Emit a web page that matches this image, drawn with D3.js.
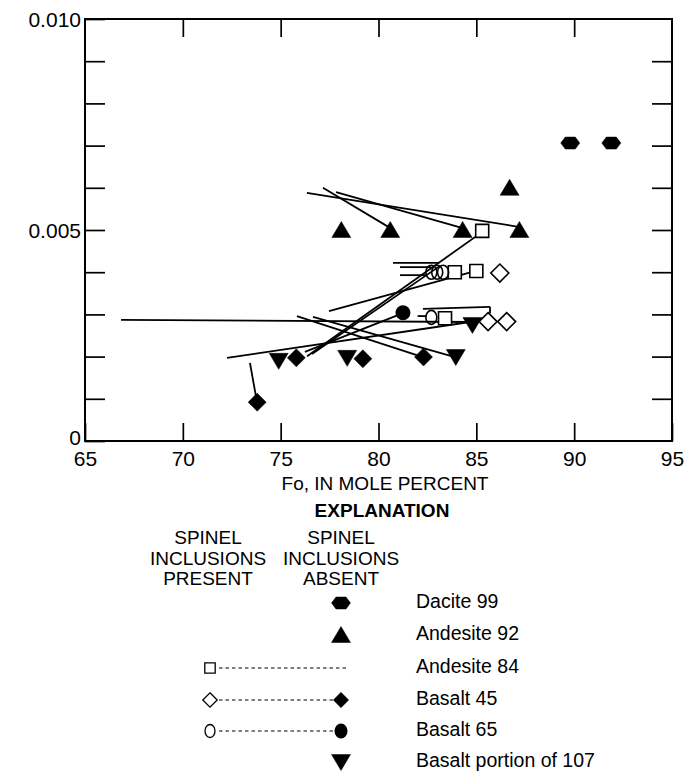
<!DOCTYPE html>
<html>
<head>
<meta charset="utf-8">
<script src="https://cdn.jsdelivr.net/npm/d3@7"></script>
<style>
	body { margin: 0; background: #fff; }
	text { font-family: "Liberation Sans", Arial, sans-serif; fill: #000; }
</style>
</head>
<body>
<svg id="main" width="685" height="772"></svg>
<script>

// ---- data (Fo in mole percent, Ni in formula units) ----
const foTicks = [65, 70, 75, 80, 85, 90, 95];
const niTicks = [0, 0.001, 0.002, 0.003, 0.004, 0.005, 0.006, 0.007, 0.008, 0.009, 0.010];
const niLabels = ['0', '', '', '', '', '0.005', '', '', '', '', '0.010'];

const dacite99 = [[89.8, 0.00706], [91.9, 0.00706]];
const andesite92 = [[78.1, 0.0050], [80.6, 0.0050], [84.3, 0.0050], [87.2, 0.0050], [86.7, 0.0060]];
const andesite84Present = [[85.3, 0.00498], [83.9, 0.00400], [85.0, 0.00403], [83.4, 0.00291]];
const basalt45Present = [[86.2, 0.00398], [85.6, 0.00283], [86.55, 0.00283]];
const basalt45Absent = [[75.8, 0.00197], [79.2, 0.00195], [82.3, 0.00199], [73.8, 0.00092]];
const basalt65Present = [[82.7, 0.00400], [83.0, 0.00400], [83.3, 0.00400], [82.7, 0.00293]];
const basalt65Absent = [[81.25, 0.00304]];
const basalt107 = [[74.9, 0.00190], [78.4, 0.00197], [83.95, 0.00199], [84.8, 0.00275]];

// tie lines: [fo1, ni1, fo2, ni2]
const tieLines = [
	[76.34, 0.00588, 87.23, 0.00507],
	[77.83, 0.00590, 84.26, 0.00505],
	[77.16, 0.00600, 80.59, 0.00505],
	[66.84, 0.00287, 84.68, 0.00282],
	[72.26, 0.00197, 84.68, 0.00282],
	[76.35, 0.00201, 85.29, 0.00495],
	[76.60, 0.00206, 83.14, 0.00415],
	[76.24, 0.00211, 81.25, 0.00303],
	[77.47, 0.00308, 84.98, 0.00403],
	[75.83, 0.00296, 82.27, 0.00199],
	[76.65, 0.00294, 83.91, 0.00199],
	[73.79, 0.00092, 73.43, 0.00185],
	[80.74, 0.00422, 83.10, 0.00422],
	[81.10, 0.00412, 82.70, 0.00412],
	[81.10, 0.00393, 82.50, 0.00393],
	[82.27, 0.00313, 85.70, 0.00318],
	[85.70, 0.00318, 85.70, 0.00303],
	[82.00, 0.00296, 82.45, 0.00296]
];

const legendRows = ['Dacite 99', 'Andesite 92', 'Andesite 84', 'Basalt 45', 'Basalt 65', 'Basalt portion of 107'];

main();

function main() {
	let svg = d3.select('#main');

	let x = d3.scaleLinear().domain([65, 95]).range([85, 672]);
	let y = d3.scaleLinear().domain([0, 0.010]).range([441, 19]);

	// symbol shapes
	const shapes = {
		hex: [[-9.5, 0], [-5, -6], [5, -6], [9.5, 0], [5, 6], [-5, 6]],
		triUp: [[0, -8.5], [9.5, 7.5], [-9.5, 7.5]],
		triDown: [[-9.5, -7.5], [9.5, -7.5], [0, 8.5]],
		diamond: [[0, -9], [9, 0], [0, 9], [-9, 0]],
		square: [[-6.5, -6.5], [6.5, -6.5], [6.5, 6.5], [-6.5, 6.5]]
	};
	const poly = (pts, s) => 'M' + pts.map(p => [p[0] * s, p[1] * s].join(',')).join('L') + 'Z';

	function drawPoly(g, data, shape, filled, s = 1) {
		g.selectAll(null)
			.data(data)
			.enter()
			.append('path')
			.attr('transform', d => `translate(${x(d[0])},${y(d[1])})`)
			.attr('d', poly(shapes[shape], s))
			.attr('fill', filled ? '#000' : '#fff')
			.attr('stroke', '#000')
			.attr('stroke-width', filled ? 0.5 : 1.6);
	}

	// axes (ticks pointing inward)
	let gx = svg.append('g')
		.attr('transform', 'translate(0,441)')
		.call(d3.axisBottom(x).tickValues(foTicks).tickSize(-18).tickPadding(10));
	let gxTop = svg.append('g')
		.attr('transform', 'translate(0,19)')
		.call(d3.axisTop(x).tickValues(foTicks.slice(1, -1)).tickSize(-18).tickFormat(''));
	let gy = svg.append('g')
		.attr('transform', 'translate(85,0)')
		.call(d3.axisLeft(y).tickValues(niTicks).tickSize(-20).tickPadding(4)
			.tickFormat((d, i) => niLabels[i]));
	let gyRight = svg.append('g')
		.attr('transform', 'translate(672,0)')
		.call(d3.axisRight(y).tickValues(niTicks.slice(1, -1)).tickSize(-20).tickFormat(''));

	[gx, gxTop, gy, gyRight].forEach(g => {
		g.select('.domain').remove();
		g.selectAll('line').attr('stroke', '#000').attr('stroke-width', 1.7);
		g.selectAll('text').style('font-size', '21px').attr('fill', '#000');
	});
	gy.selectAll('text').attr('dy', '0.35em');
	gy.selectAll('.tick').filter(d => d === 0).select('text').attr('y', -4);

	svg.append('rect')
		.attr('x', x(65)).attr('y', y(0.010))
		.attr('width', x(95) - x(65)).attr('height', y(0) - y(0.010))
		.attr('fill', 'none').attr('stroke', '#000').attr('stroke-width', 2);

	// tie lines
	svg.append('g')
		.selectAll('line')
		.data(tieLines)
		.enter()
		.append('line')
		.attr('x1', d => x(d[0])).attr('y1', d => y(d[1]))
		.attr('x2', d => x(d[2])).attr('y2', d => y(d[3]))
		.attr('stroke', '#000')
		.attr('stroke-width', 1.8);

	let marks = svg.append('g');
	drawPoly(marks, dacite99, 'hex', true);
	drawPoly(marks, andesite92, 'triUp', true);
	drawPoly(marks, andesite84Present, 'square', false);
	drawPoly(marks, basalt45Present, 'diamond', false);
	drawPoly(marks, basalt45Absent, 'diamond', true);
	drawPoly(marks, basalt107, 'triDown', true);
	marks.selectAll(null)
		.data(basalt65Present)
		.enter()
		.append('ellipse')
		.attr('cx', d => x(d[0])).attr('cy', d => y(d[1]))
		.attr('rx', 5.5).attr('ry', 7)
		.attr('fill', 'none').attr('stroke', '#000').attr('stroke-width', 1.6);
	marks.selectAll(null)
		.data(basalt65Absent)
		.enter()
		.append('circle')
		.attr('cx', d => x(d[0])).attr('cy', d => y(d[1]))
		.attr('r', 7.5)
		.attr('fill', '#000');

	// axis title
	svg.append('text')
		.attr('x', 385).attr('y', 485)
		.attr('text-anchor', 'middle').attr('dominant-baseline', 'middle')
		.style('font-size', '19px')
		.text('Fo, IN MOLE PERCENT');

	// explanation
	let leg = svg.append('g');
	leg.append('text')
		.attr('x', 382).attr('y', 512)
		.attr('text-anchor', 'middle').attr('dominant-baseline', 'middle')
		.style('font-size', '19px').style('font-weight', 'bold')
		.text('EXPLANATION');

	const colLeft = 208, colRight = 341;
	[['SPINEL', 'INCLUSIONS', 'PRESENT'], ['SPINEL', 'INCLUSIONS', 'ABSENT']].forEach((lines, c) => {
		lines.forEach((t, i) => {
			leg.append('text')
				.attr('x', c ? colRight : colLeft).attr('y', 539 + i * 20.5)
				.attr('text-anchor', 'middle').attr('dominant-baseline', 'middle')
				.style('font-size', '19px')
				.text(t);
		});
	});

	const rowY = [603, 635, 668, 700, 731, 762];
	legendRows.forEach((t, i) => {
		leg.append('text')
			.attr('x', 416).attr('y', rowY[i])
			.attr('dominant-baseline', 'middle')
			.style('font-size', '19.5px')
			.text(t);
	});

	const legPath = (shape, cx, cy, filled, s = 1) => leg.append('path')
		.attr('transform', `translate(${cx},${cy})`)
		.attr('d', poly(shapes[shape], s))
		.attr('fill', filled ? '#000' : '#fff')
		.attr('stroke', '#000')
		.attr('stroke-width', filled ? 0.5 : 1.3);
	const dash = (x1, x2, cy) => leg.append('line')
		.attr('x1', x1).attr('x2', x2).attr('y1', cy).attr('y2', cy)
		.attr('stroke', '#000').attr('stroke-width', 1.1)
		.attr('stroke-dasharray', '3.5,3');

	legPath('hex', colRight, rowY[0], true);
	legPath('triUp', colRight, rowY[1], true);
	dash(219, 347, rowY[2]);
	legPath('square', colLeft + 2, rowY[2], false, 0.8);
	dash(219, 334, rowY[3]);
	legPath('diamond', colLeft + 2, rowY[3], false, 0.8);
	legPath('diamond', colRight, rowY[3], true, 0.85);
	dash(219, 334, rowY[4]);
	leg.append('ellipse').attr('cx', colLeft + 2).attr('cy', rowY[4]).attr('rx', 5).attr('ry', 6.5)
		.attr('fill', '#fff').attr('stroke', '#000').attr('stroke-width', 1.3);
	leg.append('ellipse').attr('cx', colRight).attr('cy', rowY[4]).attr('rx', 6.5).attr('ry', 7.5)
		.attr('fill', '#000');
	legPath('triDown', colRight, rowY[5], true);
}
</script>
</body>
</html>
